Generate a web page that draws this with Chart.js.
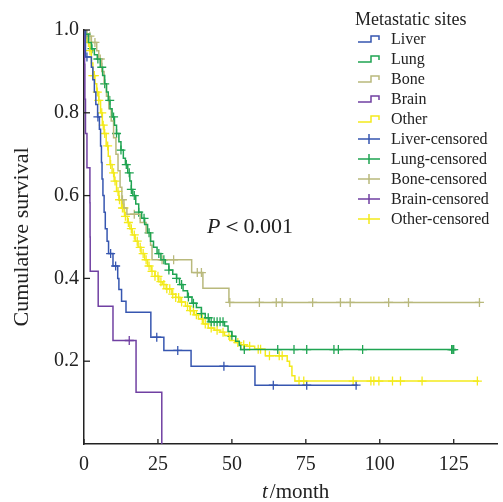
<!DOCTYPE html>
<html>
<head>
<title>Cumulative survival by metastatic site</title>
<script src="https://cdn.jsdelivr.net/npm/chart.js"></script>
<style>
  html, body { margin: 0; padding: 0; background: #fff; overflow: hidden; }
  canvas { display: block; }
</style>
</head>
<body>
<canvas id="kmChart" width="503" height="502"></canvas>
<script>
// Kaplan-Meier steps: [month, survival after the event]
const liverSteps = [[0,1],[0.5,0.935],[2.5,0.91],[3,0.88],[3.5,0.85],[4,0.82],[4.6,0.79],[5.2,0.76],[5.6,0.72],
  [5.9,0.68],[6.1,0.64],[6.4,0.6],[6.8,0.56],[7.2,0.52],[7.8,0.49],[8.3,0.46],[9.8,0.43],[11.4,0.4],[11.8,0.373],
  [12.7,0.345],[14.2,0.318],[22.6,0.258],[27,0.226],[36.2,0.188],[57.8,0.142],[92.5,0.142]];
const lungSteps = [[0,1],[0.5,0.99],[1.5,0.97],[2.5,0.955],[3.5,0.94],[4.5,0.93],[5.5,0.91],[6.3,0.89],[7,0.87],
  [7.6,0.85],[8.2,0.83],[8.8,0.81],[9.5,0.79],[10.3,0.77],[11,0.75],[11.8,0.73],[12.5,0.71],[13.3,0.69],[14,0.675],
  [14.8,0.655],[15.5,0.635],[16,0.615],[16.5,0.6],[17.5,0.58],[18.5,0.56],[19.5,0.545],[20.5,0.53],[21.5,0.51],
  [22.5,0.49],[23.5,0.475],[24.7,0.46],[26,0.445],[27.5,0.435],[28.7,0.42],[30,0.41],[31.3,0.4],[32.3,0.385],
  [33.5,0.37],[35,0.355],[36.5,0.34],[38,0.33],[39.7,0.315],[41,0.305],[42.3,0.295],[47.5,0.285],[48.7,0.272],
  [50,0.26],[51.3,0.248],[52.5,0.238],[53,0.228],[125.8,0.228]];
const boneSteps = [[0,1],[1,0.985],[2.5,0.97],[4.3,0.95],[5,0.93],[6,0.9],[6.8,0.87],[7.6,0.84],[8.4,0.81],
  [9.2,0.78],[10,0.74],[10.8,0.7],[11.5,0.66],[12.2,0.62],[12.8,0.59],[13.5,0.57],[14.5,0.555],[19,0.535],
  [21,0.51],[22.5,0.48],[23,0.445],[36.4,0.414],[40.2,0.376],[49,0.342],[134,0.342]];
const brainSteps = [[0,1],[0.2,0.917],[0.3,0.833],[0.5,0.75],[1,0.667],[2,0.583],[2.05,0.5],[2.1,0.417],
  [4.8,0.333],[9.8,0.25],[17.6,0.125],[26.3,0]];
const otherSteps = [[0,1],[0.3,0.99],[1,0.97],[2,0.95],[2.5,0.92],[3,0.89],[3.7,0.87],[4.3,0.85],[5,0.83],
  [5.6,0.8],[6.2,0.77],[6.8,0.75],[7.5,0.72],[8.2,0.695],[8.8,0.675],[9.5,0.655],[10.2,0.635],[11,0.61],
  [11.8,0.59],[12.7,0.57],[13.7,0.55],[14.7,0.535],[15.5,0.52],[16.3,0.505],[17.3,0.49],[18.3,0.475],[19.3,0.46],
  [20.5,0.445],[21.5,0.43],[22.7,0.417],[24,0.405],[25.3,0.392],[26.5,0.385],[27.8,0.375],[29.7,0.362],[31,0.354],
  [32.5,0.343],[34.3,0.333],[35.8,0.322],[37.3,0.312],[38.7,0.302],[40.3,0.29],[42,0.28],[44,0.275],[46,0.27],
  [47.5,0.262],[49.3,0.25],[51,0.245],[53,0.24],[55,0.236],[57.7,0.229],[61.3,0.213],[68.7,0.2],[69.5,0.188],
  [70.3,0.165],[71.3,0.152],[133.5,0.152]];

// censoring times (months)
const liverCensored = [1, 4.7, 9, 10.7, 24.6, 31.7, 47.3, 64, 75.3, 92];
const lungCensored = [0.7, 2.7, 4.7, 6, 7, 8.7, 10, 11, 12.5, 14.3, 15.3, 16, 17, 18.5, 20.3, 22, 25.3, 27, 28.7,
  31.3, 33, 35.3, 37, 39.7, 42, 43, 44, 45, 46, 47, 50, 54.2, 65.5, 71, 75.3, 84.5, 86, 94.2, 124.3, 124.7, 125];
const boneCensored = [2, 3.7, 5.5, 13, 17, 26.4, 30.3, 38.3, 39.7, 49.3, 59.3, 65, 67, 77.3, 86.7, 90, 103, 109.7, 133.7];
const brainCensored = [15.3];
const otherCensored = [0.5, 1.5, 2, 3, 3.5, 4.5, 5, 6, 6.5, 7, 8, 9, 10, 10.5, 11.5, 12, 13, 13.5, 14, 15, 16, 17,
  18, 19, 20, 21, 22, 23, 24, 25, 26, 27, 28, 29, 30, 31, 32, 33, 35, 36, 37, 38, 40, 41, 43, 45, 47, 49, 52, 54,
  56, 58.9, 59.7, 62.7, 66, 67, 72.7, 74.3, 91, 97, 98, 99.7, 104.3, 107, 114.3, 133];

const groupNames = ["Liver", "Lung", "Bone", "Brain", "Other"];
const xTicks = [0, 25, 50, 75, 100, 125];
const yTicks = [0.2, 0.4, 0.6, 0.8, 1.0];

const colors = ["#3656b0", "#1fa452", "#b9b97c", "#7040a2", "#f3ea1c"];
const allSteps = [liverSteps, lungSteps, boneSteps, brainSteps, otherSteps];
const allCensored = [liverCensored, lungCensored, boneCensored, brainCensored, otherCensored];
const serif = '"Liberation Serif", "Times New Roman", serif';

function survivalAt(steps, t) {
  let s = steps[0][1];
  for (const [m, v] of steps) {
    if (m <= t) s = v;
  }
  return s;
}

const datasets = [];
groupNames.forEach((name, i) => {
  datasets.push({
    label: name,
    data: allSteps[i].map(([x, y]) => ({ x, y })),
    borderColor: colors[i],
    borderWidth: 1.5,
    stepped: true,
    pointRadius: 0,
    fill: false,
  });
});
groupNames.forEach((name, i) => {
  datasets.push({
    label: name + "-censored",
    data: allCensored[i].map((t) => ({ x: t, y: survivalAt(allSteps[i], t) })),
    showLine: false,
    pointStyle: "cross",
    pointRadius: 4.5,
    pointBorderWidth: 1.3,
    borderColor: colors[i],
    pointBorderColor: colors[i],
  });
});

// inward ticks, P value, x title and legend
const overlay = {
  id: "overlay",
  afterDraw(chart) {
    const ctx = chart.ctx;
    const xs = chart.scales.x;
    const ys = chart.scales.y;
    const area = chart.chartArea;
    ctx.save();
    ctx.strokeStyle = "#222";
    ctx.lineWidth = 1.3;
    xTicks.forEach((v) => {
      const px = xs.getPixelForValue(v);
      ctx.beginPath();
      ctx.moveTo(px, area.bottom);
      ctx.lineTo(px, area.bottom - 5);
      ctx.stroke();
    });
    yTicks.forEach((v) => {
      const py = ys.getPixelForValue(v);
      ctx.beginPath();
      ctx.moveTo(area.left, py);
      ctx.lineTo(area.left + 6, py);
      ctx.stroke();
    });

    ctx.fillStyle = "#222";
    ctx.textBaseline = "alphabetic";
    ctx.textAlign = "left";
    // P value
    ctx.font = "italic 22px " + serif;
    ctx.fillText("P", 207, 233);
    let w = ctx.measureText("P").width;
    ctx.font = "22px " + serif;
    ctx.fillText("\uFF1C0.001", 207 + w + 1, 233);

    // x title
    ctx.font = "italic 21px " + serif;
    ctx.fillText("t", 262, 498);
    w = ctx.measureText("t").width;
    ctx.font = "21px " + serif;
    ctx.fillText("/month", 262 + w + 2, 498);

    // legend
    ctx.textBaseline = "middle";
    ctx.font = "18px " + serif;
    ctx.fillText("Metastatic sites", 355, 20);
    ctx.font = "16px " + serif;
    const labels = groupNames.concat(groupNames.map((n) => n + "-censored"));
    labels.forEach((lab, k) => {
      const y = 39 + 20 * k;
      const c = colors[k % 5];
      ctx.strokeStyle = c;
      ctx.lineWidth = 1.5;
      ctx.beginPath();
      if (k < 5) {
        ctx.moveTo(358, y + 3);
        ctx.lineTo(371, y + 3);
        ctx.lineTo(371, y - 3);
        ctx.lineTo(379, y - 3);
        ctx.lineTo(379, y + 1);
      } else {
        ctx.moveTo(358, y);
        ctx.lineTo(380, y);
        ctx.moveTo(369, y - 5);
        ctx.lineTo(369, y + 5);
      }
      ctx.stroke();
      ctx.fillStyle = "#222";
      ctx.fillText(lab, 391, y + 1);
    });
    ctx.restore();
  },
};

new Chart(document.getElementById("kmChart"), {
  type: "line",
  data: { datasets },
  options: {
    responsive: false,
    animation: false,
    layout: { padding: { top: 30, right: 0, bottom: 0, left: 0 } },
    plugins: { legend: { display: false }, tooltip: { enabled: false } },
    elements: { line: { tension: 0 } },
    scales: {
      x: {
        type: "linear",
        min: 0,
        max: 139.7,
        afterBuildTicks: (s) => { s.ticks = xTicks.map((v) => ({ value: v })); },
        afterFit: (s) => { s.height = 58; s.paddingLeft = 0; s.paddingRight = 0; },
        grid: { display: false, drawTicks: false },
        border: { display: true, color: "#222", width: 1.5 },
        ticks: {
          font: { family: serif, size: 20 },
          color: "#222",
          padding: 9,
          maxRotation: 0,
          autoSkip: false,
        },
      },
      y: {
        type: "linear",
        min: 0,
        max: 1,
        afterBuildTicks: (s) => { s.ticks = yTicks.map((v) => ({ value: v })); },
        afterFit: (s) => { s.width = 84; s.paddingTop = 0; s.paddingBottom = 0; },
        grid: { display: false, drawTicks: false },
        border: { display: true, color: "#222", width: 1.5 },
        ticks: {
          font: { family: serif, size: 20 },
          color: "#222",
          padding: 5,
          callback: (v) => v.toFixed(1),
        },
        title: {
          display: true,
          text: "Cumulative survival",
          font: { family: serif, size: 22 },
          color: "#222",
          padding: { top: 9, bottom: 0 },
        },
      },
    },
  },
  plugins: [overlay],
});
</script>
</body>
</html>
